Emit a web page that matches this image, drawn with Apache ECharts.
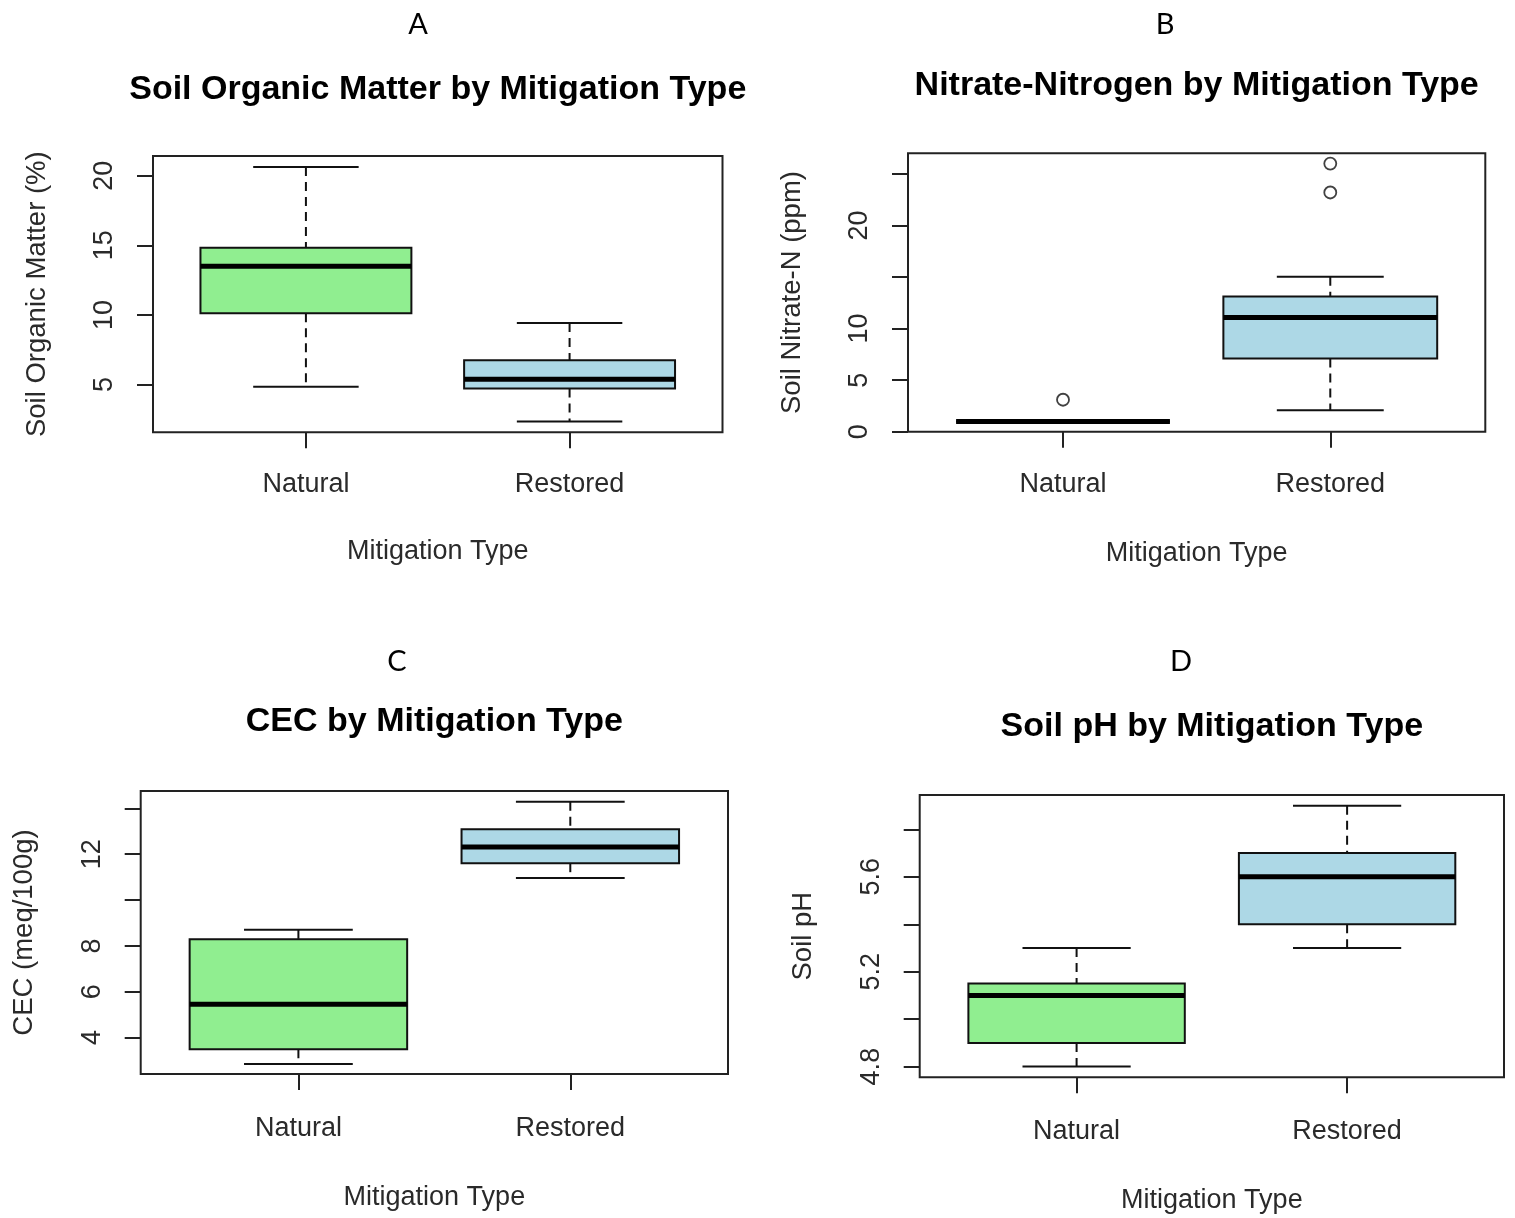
<!DOCTYPE html>
<html><head><meta charset="utf-8">
<script src="https://cdn.jsdelivr.net/npm/echarts@6/dist/echarts.min.js"></script>
<style>html,body{margin:0;padding:0;background:#fff}#c{width:1515px;height:1218px}</style>
</head><body><div id="c"></div>
<script>
// ---------- DATA ----------
const categories = ['Natural', 'Restored'];
const panelLetters = ['A', 'B', 'C', 'D'];
const panelTitles = [
  'Soil Organic Matter by Mitigation Type',
  'Nitrate-Nitrogen by Mitigation Type',
  'CEC by Mitigation Type',
  'Soil pH by Mitigation Type'
];
const yAxisNames = ['Soil Organic Matter (%)', 'Soil Nitrate-N (ppm)', 'CEC (meq/100g)', 'Soil pH'];
const xAxisName = 'Mitigation Type';

// box statistics: [lower whisker, Q1, median, Q3, upper whisker]
const somNatural = [4.83, 10.12, 13.49, 14.83, 20.63];
const somRestored = [2.33, 4.71, 5.38, 6.73, 9.42];
const somOutliers = [];

const nitrateNatural = [1.0, 1.0, 1.0, 1.0, 1.0];
const nitrateRestored = [2.08, 7.1, 11.07, 13.1, 15.02];
const nitrateOutliers = [[1, 3.1], [2, 23.2], [2, 26.0]];

const cecNatural = [2.85, 3.49, 5.45, 8.29, 8.70];
const cecRestored = [10.96, 11.61, 12.32, 13.09, 14.29];
const cecOutliers = [];

const phNatural = [4.80, 4.90, 5.10, 5.15, 5.30];
const phRestored = [5.30, 5.40, 5.60, 5.70, 5.90];
const phOutliers = [];

// y tick positions and the labels drawn (R drops overlapping labels)
const somTicks = [5, 10, 15, 20];
const somTickLabels = [5, 10, 15, 20];
const nitrateTicks = [0, 5, 10, 15, 20, 25];
const nitrateTickLabels = [0, 5, 10, 20];
const cecTicks = [4, 6, 8, 10, 12, 14];
const cecTickLabels = [4, 6, 8, 12];
const phTicks = [4.8, 5.0, 5.2, 5.4, 5.6, 5.8];
const phTickLabels = [4.8, 5.2, 5.6];

// y ranges (R extends the data range by 4%)
const somRange = [1.56, 21.42];
const nitrateRange = [0, 27];
const cecRange = [2.41, 14.76];
const phRange = [4.755, 5.945];

// ---------- LAYOUT ----------
const panels = [
  { grid: {left: 153, top: 156, width: 569.5, height: 276.3}, letterX: 418, letterY: 25, titleY: 90, labelMargin: 39, nameGap: 106,
    stats: [somNatural, somRestored], outliers: somOutliers, ticks: somTicks, labels: somTickLabels, range: somRange },
  { grid: {left: 908, top: 153.3, width: 577.3, height: 278.4}, letterX: 1165, letterY: 25, titleY: 86, labelMargin: 39, nameGap: 108,
    stats: [nitrateNatural, nitrateRestored], outliers: nitrateOutliers, ticks: nitrateTicks, labels: nitrateTickLabels, range: nitrateRange },
  { grid: {left: 140.7, top: 791, width: 587.3, height: 283}, letterX: 397, letterY: 662, titleY: 722, labelMargin: 41, nameGap: 110,
    stats: [cecNatural, cecRestored], outliers: cecOutliers, ticks: cecTicks, labels: cecTickLabels, range: cecRange },
  { grid: {left: 919.7, top: 795, width: 584.3, height: 282.3}, letterX: 1181, letterY: 662, titleY: 727, labelMargin: 41, nameGap: 110,
    stats: [phNatural, phRestored], outliers: phOutliers, ticks: phTicks, labels: phTickLabels, range: phRange }
];

const FONT = "'Liberation Sans', Arial, sans-serif";
const INK = '#111';
const fills = ['#90EE90', '#ADD8E6'];

function renderBox(params, api) {
  const x = api.value(0);
  const lo = api.value(1), q1 = api.value(2), md = api.value(3), q3 = api.value(4), hi = api.value(5);
  const half = 0.4, sh = 0.2;
  const c = (a, b) => api.coord([a, b]);
  const cHi = c(x, hi), cQ3 = c(x, q3), cQ1 = c(x, q1), cLo = c(x, lo);
  const sL = c(x - sh, hi), sR = c(x + sh, hi);
  const sLl = c(x - sh, lo), sRl = c(x + sh, lo);
  const bL = c(x - half, q3), bR = c(x + half, q1);
  const mL = c(x - half, md), mR = c(x + half, md);
  const lineStyle = {stroke: INK, lineWidth: 2};
  const dashStyle = {stroke: INK, lineWidth: 2, lineDash: [9, 6]};
  return {
    type: 'group',
    children: [
      {type: 'line', shape: {x1: cHi[0], y1: cHi[1], x2: cQ3[0], y2: cQ3[1]}, style: dashStyle},
      {type: 'line', shape: {x1: cQ1[0], y1: cQ1[1], x2: cLo[0], y2: cLo[1]}, style: dashStyle},
      {type: 'line', shape: {x1: sL[0], y1: sL[1], x2: sR[0], y2: sR[1]}, style: lineStyle},
      {type: 'line', shape: {x1: sLl[0], y1: sLl[1], x2: sRl[0], y2: sRl[1]}, style: lineStyle},
      {type: 'rect', shape: {x: bL[0], y: bL[1], width: bR[0] - bL[0], height: bR[1] - bL[1]},
        style: {fill: fills[x - 1], stroke: INK, lineWidth: 2}},
      {type: 'line', shape: {x1: mL[0], y1: mL[1], x2: mR[0], y2: mR[1]}, style: {stroke: '#000', lineWidth: 5}}
    ]
  };
}

const grids = [], xAxes = [], yAxes = [], series = [], graphics = [];
panels.forEach((p, i) => {
  grids.push(Object.assign({show: true, borderColor: '#222', borderWidth: 2, backgroundColor: '#fff', containLabel: false}, p.grid));
  xAxes.push({
    type: 'value', gridIndex: i, min: 0.42, max: 2.58,
    name: xAxisName, nameLocation: 'middle', nameGap: p.nameGap,
    nameTextStyle: {fontFamily: FONT, fontSize: 27, color: '#2a2a2a'},
    axisLine: {show: false}, splitLine: {show: false},
    axisTick: {show: true, inside: false, length: 16, customValues: [1, 2], lineStyle: {color: '#222', width: 2}},
    axisLabel: {show: true, customValues: [1, 2], margin: p.labelMargin, fontFamily: FONT, fontSize: 27, color: '#2a2a2a',
      formatter: v => categories[Math.round(v) - 1] || ''}
  });
  yAxes.push({
    type: 'value', gridIndex: i, min: p.range[0], max: p.range[1],
    name: yAxisNames[i], nameLocation: 'middle', nameGap: 102, nameRotate: 90,
    nameTextStyle: {fontFamily: FONT, fontSize: 27.5, color: '#2a2a2a'},
    axisLine: {show: false}, splitLine: {show: false},
    axisTick: {show: true, inside: false, length: 16, customValues: p.ticks, lineStyle: {color: '#222', width: 2}},
    axisLabel: {show: true, customValues: p.labels, rotate: 90, margin: 35, fontFamily: FONT, fontSize: 27, color: '#2a2a2a',
      formatter: v => String(v)}
  });
  series.push({
    type: 'custom', xAxisIndex: i, yAxisIndex: i, clip: false,
    renderItem: renderBox,
    encode: {x: 0, y: [1, 2, 3, 4, 5]},
    data: p.stats.map((s, k) => [k + 1].concat(s)),
    z: 3
  });
  series.push({
    type: 'scatter', xAxisIndex: i, yAxisIndex: i, symbol: 'circle', symbolSize: 12,
    itemStyle: {color: 'rgba(0,0,0,0)', borderColor: INK, borderWidth: 1.8},
    data: p.outliers, z: 4, silent: true
  });
  const cx = p.grid.left + p.grid.width / 2;
  graphics.push({type: 'text', x: cx, y: p.titleY, style: {text: panelTitles[i], fontFamily: FONT, fontWeight: 'bold', fontSize: 34, fill: '#000', align: 'center', verticalAlign: 'middle'}});
  graphics.push({type: 'text', x: p.letterX, y: p.letterY, style: {text: panelLetters[i], fontFamily: 'Lato, "Open Sans", sans-serif', fontSize: 29, fill: '#000', align: 'center', verticalAlign: 'middle'}});
});

const chart = echarts.init(document.getElementById('c'), null, {renderer: 'canvas'});
chart.setOption({
  backgroundColor: '#fff',
  animation: false,
  grid: grids, xAxis: xAxes, yAxis: yAxes, series: series, graphic: graphics
});
</script>
</body></html>
